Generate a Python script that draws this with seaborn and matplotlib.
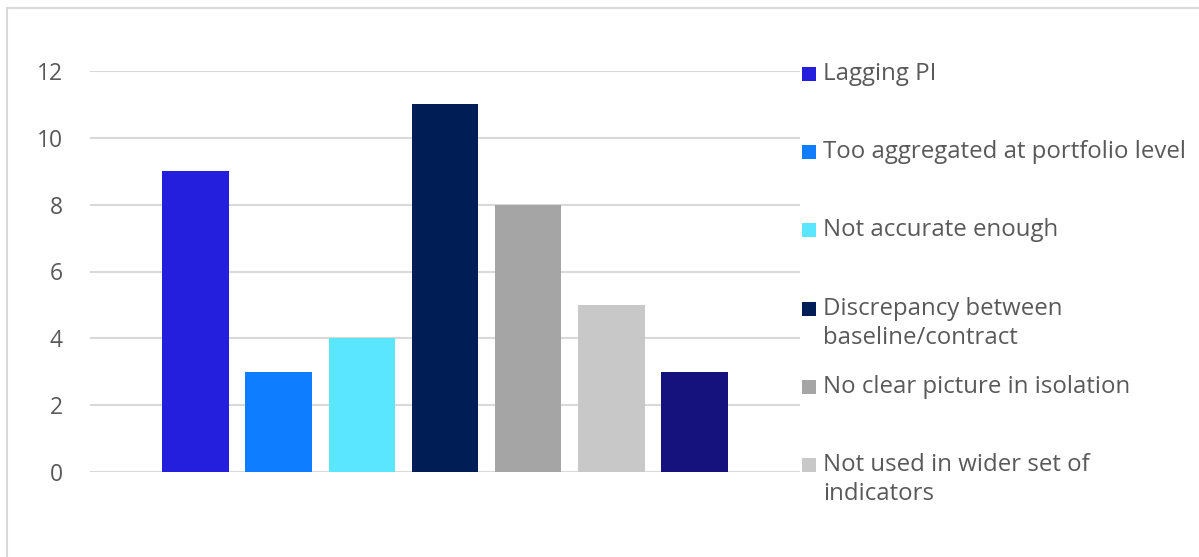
import matplotlib
matplotlib.use("Agg")
import matplotlib.pyplot as plt
from matplotlib.patches import Rectangle
import seaborn as sns
import pandas as pd

categories = ["Lagging PI", "Too aggregated at portfolio level", "Not accurate enough",
              "Discrepancy between\nbaseline/contract", "No clear picture in isolation",
              "Not used in wider set of\nindicators", "Other"]
values = [9, 3, 4, 11, 8, 5, 3]
colors = ["#231FDC", "#0E7DFF", "#5BE6FF", "#001E55", "#A5A5A5", "#C8C8C8", "#15127E"]
legend_labels = categories[:6]
yticks = [0, 2, 4, 6, 8, 10, 12]

sns.set_theme(style="white")
plt.rcParams["font.family"] = ["Open Sans", "DejaVu Sans"]

W, H = 1199, 557
fig = plt.figure(figsize=(W / 100, H / 100), dpi=100)
ax = fig.add_axes([90 / W, 1 - 472 / H, (800 - 90) / W, (472 - 71) / H])

df = pd.DataFrame({"cat": categories, "val": values})
sns.barplot(data=df, x="cat", y="val", hue="cat", palette=colors, order=categories,
            hue_order=categories, width=0.8, dodge=False, legend=False, ax=ax,
            saturation=1, linewidth=0, edgecolor="none")

ax.set_xlim(-1.27, len(categories) - 1 + 1.27)
ax.set_ylim(0, 12)
ax.set_yticks(yticks)
ax.set_yticklabels([str(t) for t in yticks], fontsize=16.5, color="#595959")
ax.set_xticks([])
ax.set_xlabel("")
ax.set_ylabel("")
ax.tick_params(axis="y", length=0, pad=19.5)
for s in ax.spines.values():
    s.set_visible(False)
ax.yaxis.grid(True, color="#D9D9D9", linewidth=1.5)
ax.set_axisbelow(True)

# legend (only six entries visible)
sq = 14
for i, (lab, c) in enumerate(zip(legend_labels, colors[:6])):
    yc = 74 + 78.2 * i
    fig.patches.append(Rectangle((802 / W, 1 - (yc + sq / 2) / H), sq / W, sq / H,
                                 transform=fig.transFigure, facecolor=c, edgecolor="none"))
    fig.text(823 / W, 1 - (yc - 12) / H, lab, fontsize=17.3, color="#595959",
             va="top", ha="left", linespacing=1.3)

# outer chart border
fig.patches.append(Rectangle((7 / W, -0.1), 1.2, 1.1 - 8 / H, transform=fig.transFigure,
                             facecolor="none", edgecolor="#D9D9D9", linewidth=1.5,
                             clip_on=False))

fig.savefig("out.png", dpi=100)
